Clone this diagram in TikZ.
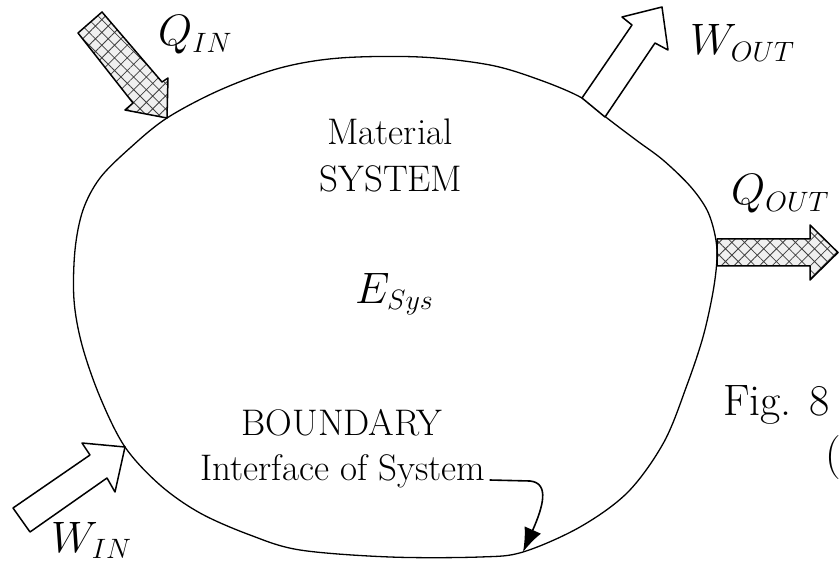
\RequirePackage{fix-cm}
\documentclass[tikz,border=0pt]{standalone}
\usetikzlibrary{patterns.meta,arrows.meta}
\DeclareMathSizes{44}{44}{28}{20}
\begin{document}
\begin{tikzpicture}[x=1pt,y=-1pt, line join=round,
  bnd/.style={line width=1.3pt},
  workarrow/.style={draw, line width=1.5pt, fill=white},
  heatarrow/.style={draw, line width=1.5pt, preaction={fill=black!6},
    pattern={Hatch[angle=45,distance=9pt,line width=0.8pt]}, pattern color=black!75},
  txt/.style={font={\fontsize{37}{45}\selectfont}, inner sep=0pt},
  sym/.style={font={\fontsize{44}{52}\selectfont}, inner sep=0pt},
  pointer/.style={line width=1.6pt, -{Latex[length=24pt,width=18pt]}}
]
\useasboundingbox (0,0) rectangle (839,567);
\clip (0,0) rectangle (839,567);

% system boundary
\draw[bnd] plot[smooth cycle, tension=0.55] coordinates {
  (167,118) (220,90) (280,68) (340,58) (420,57) (490,65) (540,80) (582,98)
  (607,118) (636,140) (663,160) (690,186) (707,210) (715,235) (717,258)
  (713,292) (703,337) (687,385) (664,442) (628,492) (580,527) (523,552)
  (480,557) (390,557) (300,550) (250,535) (200,513) (160,485) (125,447)
  (100,397) (82,345) (74,300) (75,250) (83,210) (100,178) (130,148)};

% heat in
\path[heatarrow] (102,12) -- (162,82) -- (168,78) -- (167,118) -- (125,110)
  -- (133,103) -- (78,33) -- cycle;
% work out
\path[workarrow] (582,98) -- (632,25) -- (622,17) -- (662,7) -- (668,50)
  -- (655,43) -- (605,117) -- cycle;
% heat out
\path[heatarrow] (717,239) -- (810,239) -- (810,225) -- (838,252.5)
  -- (810,280) -- (810,266) -- (717,266) -- cycle;
% work in
\path[workarrow] (13,508) -- (90,455) -- (82,443) -- (125,447) -- (115,492)
  -- (107,478) -- (30,532) -- cycle;

% labels
\node[sym, anchor=base west] (qin) at (158,46) {$Q_{IN}$};
\node[sym, anchor=base west] (wout) at (690,55) {$W_{OUT}$};
\node[sym, anchor=base west] (qout) at (731,205) {$Q_{OUT}$};
\node[sym, anchor=base west] (win) at (51,552) {$W_{IN}$};
\node[sym, anchor=base west] (esys) at (355,303) {$E_{Sys}$};

\node[txt, anchor=base] (mat) at (390,145) {Material};
\node[txt, anchor=base] (sys) at (391,192) {SYSTEM};
\node[txt, anchor=base] (bdy) at (342,435) {BOUNDARY};
\node[txt, anchor=base] (iface) at (343,480) {Interface of System};

\node[sym, anchor=base west] (fig) at (723,415) {Fig. 8};
\node[sym, anchor=base west] (paren) at (825,468) {(};

% pointer to boundary
\coordinate (ifaceBend) at (530,481);
\coordinate (ifaceTip) at (523,552);
\draw[pointer] (iface.base east) ++(4,0) -- (ifaceBend)
  .. controls +(20,2) and +(20,-45) .. (ifaceTip);
\end{tikzpicture}
\end{document}
